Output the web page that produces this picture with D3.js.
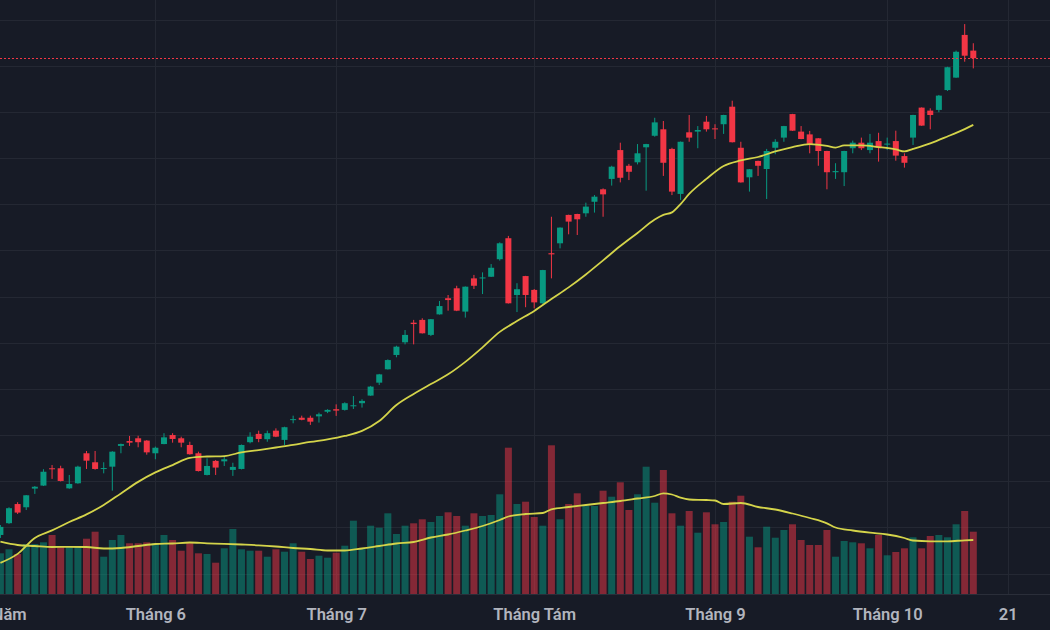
<!DOCTYPE html>
<html lang="vi">
<head>
<meta charset="UTF-8">
<title>Biểu đồ nến</title>
<script src="https://d3js.org/d3.v7.min.js"></script>
<style>
  html, body { margin: 0; padding: 0; background: #171b26; }
  svg { display: block; }
  .time-axis text { font-family: Roboto, "Noto Sans", sans-serif; font-size: 16.5px; font-weight: 600; fill: #b2b5be; }
</style>
</head>
<body>
<div id="chart"></div>
<script>
// giá mở / cao / thấp / đóng theo phiên
const opens  = [15.67,16.18,17.01,16.87,17.68,17.81,18.56,18.56,17.69,17.91,19.21,18.82,18.54,18.63,19.53,19.74,19.86,19.76,19.21,19.61,
                20.00,19.86,19.57,19.21,18.27,18.88,18.86,18.49,18.53,19.69,20.05,19.82,20.19,19.79,20.67,20.75,20.75,20.81,21.01,21.12,
                21.09,21.26,21.38,21.71,22.27,22.85,23.47,24.02,24.87,24.99,24.34,25.23,25.93,26.36,25.35,26.79,26.81,26.86,27.62,28.53,
                26.07,26.89,26.29,25.71,27.88,28.31,29.54,29.58,29.61,30.11,30.65,31.10,32.35,31.67,31.82,32.47,32.97,33.25,32.40,30.45,
                33.12,33.15,33.58,33.29,33.47,34.23,32.45,31.17,31.88,31.53,32.45,32.89,33.91,33.15,33.03,32.86,32.31,31.39,31.39,32.43,
                32.67,32.35,32.74,32.60,32.74,32.09,32.89,34.19,34.06,34.09,34.95,35.49,37.34,36.66];
const highs  = [16.10,16.87,17.09,17.40,17.79,18.52,18.70,18.67,18.27,18.67,19.31,19.31,18.82,19.30,19.63,19.96,19.97,19.78,19.50,20.08,
                20.08,19.93,19.71,19.28,18.99,18.92,19.09,18.80,19.59,20.12,20.19,20.19,20.29,20.36,20.84,20.84,20.84,20.97,21.12,21.33,
                21.42,21.69,21.55,22.13,22.65,23.28,23.87,24.55,24.99,25.06,25.03,25.81,26.07,26.47,26.44,26.94,27.05,27.41,28.35,28.63,
                26.58,26.90,26.33,27.16,29.46,29.00,29.55,29.59,30.07,30.40,30.69,31.67,32.67,31.75,32.61,32.62,33.75,33.61,32.45,32.72,
                33.87,33.39,33.83,33.47,33.88,34.49,32.71,31.53,31.89,32.40,32.82,33.40,33.92,33.39,33.18,32.87,32.32,31.78,32.32,32.76,
                32.89,33.05,33.10,32.89,33.19,32.21,33.88,34.20,34.16,34.74,35.96,36.66,37.81,36.98];
const lows   = [15.54,16.15,16.58,16.75,17.45,17.79,18.10,17.99,17.67,17.89,18.53,18.50,18.34,17.59,19.21,19.53,19.47,19.15,18.95,19.60,
                19.67,19.47,19.15,18.42,18.25,18.27,18.66,18.23,18.51,19.64,19.69,19.71,19.91,19.57,20.51,20.64,20.44,20.54,20.95,20.83,
                21.06,21.13,21.19,21.70,22.17,22.84,23.37,23.93,23.93,24.40,24.29,25.22,25.39,25.37,25.09,26.33,26.11,26.85,27.56,25.70,
                25.33,25.54,25.49,25.69,26.79,28.09,28.70,28.67,29.46,29.64,29.46,30.81,30.95,31.05,31.73,30.59,32.93,31.23,30.40,30.19,
                32.71,32.43,33.15,32.83,33.05,32.68,30.94,30.55,31.23,30.23,32.17,32.71,33.18,32.82,32.21,31.67,30.65,31.10,30.79,32.21,
                32.35,32.21,31.85,32.35,31.89,31.59,32.57,33.40,33.25,33.99,34.91,35.48,36.18,35.89];
const closes = [16.02,16.83,16.64,17.39,17.76,18.41,18.52,18.01,17.88,18.63,18.89,18.53,18.57,19.28,19.61,19.67,19.69,19.25,19.45,19.90,
                19.83,19.67,19.17,18.44,18.66,18.59,18.95,18.62,19.57,19.93,19.83,20.08,19.93,20.34,20.69,20.66,20.58,20.90,21.09,21.06,
                21.38,21.29,21.48,22.10,22.63,23.25,23.83,24.34,24.81,24.41,25.02,25.59,25.85,25.39,26.43,26.47,26.83,27.25,28.31,25.71,
                26.32,26.07,25.75,27.15,27.83,28.99,29.25,29.35,29.90,30.33,30.43,31.63,31.15,31.41,32.21,32.61,33.55,31.80,30.55,32.71,
                32.89,33.22,33.25,33.25,33.87,32.69,30.95,31.52,31.67,32.31,32.71,33.39,33.19,32.83,32.60,32.31,31.39,31.44,32.31,32.67,
                32.43,32.67,32.45,32.63,32.11,31.80,33.87,33.41,33.87,34.71,35.94,36.61,36.44,36.33];

// khối lượng (triệu cp)
const volumes = [4.07,4.47,4.00,5.00,5.00,5.17,5.90,4.73,4.73,4.73,5.53,6.23,3.73,5.40,5.90,5.07,5.07,5.17,5.07,5.90,
                 5.40,4.33,5.13,4.07,4.00,3.13,4.57,6.50,4.47,4.33,4.33,3.73,4.47,4.23,5.07,4.23,3.50,3.83,3.63,4.13,
                 4.83,7.33,4.57,6.83,6.63,8.07,6.00,6.83,7.07,7.47,7.20,7.80,8.17,7.80,6.83,8.07,7.80,7.90,9.97,14.63,
                 9.00,9.23,7.70,6.83,14.87,7.47,9.00,10.07,8.80,8.80,10.33,9.73,11.17,8.40,9.97,12.73,9.13,12.40,8.07,6.83,
                 8.30,6.13,8.17,6.97,7.20,9.23,9.83,5.73,4.67,6.73,5.63,6.40,6.97,5.40,4.90,4.90,6.40,3.73,5.30,5.17,
                 5.07,4.57,5.90,3.87,4.20,4.57,5.67,4.57,5.80,5.90,5.67,6.97,8.30,6.23];

// đường MA của giá: [phiên, giá]
const priceMA = [[0,14.46],[2,14.85],[4,15.54],[6,15.87],[8,16.23],[10,16.56],[12,16.97],[14,17.47],[16,17.97],[18,18.38],
                 [20,18.70],[22,19.01],[24,19.07],[26,19.09],[28,19.25],[30,19.35],[32,19.46],[34,19.57],[36,19.70],[38,19.81],
                 [40,19.96],[42,20.18],[44,20.61],[46,21.30],[48,21.78],[50,22.21],[52,22.63],[54,23.17],[56,23.80],[58,24.47],
                 [60,24.94],[62,25.38],[64,25.90],[66,26.40],[68,26.96],[70,27.57],[72,28.19],[74,28.76],[76,29.34],[77,29.54],
                 [78,29.65],[79,30.01],[80,30.45],[82,31.10],[84,31.66],[86,31.90],[88,32.05],[90,32.29],[92,32.48],[94,32.61],
                 [96,32.53],[97,32.46],[98,32.55],[100,32.55],[102,32.48],[104,32.38],[105,32.29],[106,32.40],[108,32.64],[110,32.94],
                 [112,33.26],[113,33.44]];

// đường MA của khối lượng: [phiên, khối lượng]
const volumeMA = [[0,5.23],[2,4.90],[4,4.80],[6,4.70],[8,4.72],[10,4.70],[12,4.55],[14,4.60],[16,4.80],[18,5.00],
                  [20,5.05],[22,5.15],[24,5.07],[26,5.02],[28,4.95],[30,4.87],[32,4.75],[34,4.60],[36,4.50],[38,4.35],
                  [40,4.35],[42,4.55],[44,4.80],[46,5.05],[48,5.20],[50,5.65],[52,5.95],[54,6.35],[56,6.80],[58,7.40],
                  [59,7.75],[61,8.00],[63,8.10],[64,8.47],[66,8.70],[68,8.90],[70,9.10],[72,9.30],[74,9.55],[76,9.80],
                  [77,10.07],[78,9.95],[79,9.63],[80,9.45],[82,9.40],[83,9.35],[84,9.00],[86,9.10],[88,8.70],[90,8.45],
                  [92,8.05],[94,7.60],[96,7.07],[97,6.65],[99,6.35],[101,6.13],[103,5.95],[105,5.60],[106,5.35],[108,5.27],
                  [110,5.27],[112,5.37],[113,5.40]];

// nhãn trục thời gian (vị trí theo phiên)
const tickIdx  = [-2, 18, 39, 62, 83, 103, 117];
const tickText = ["Tháng Năm", "Tháng 6", "Tháng 7", "Tháng Tám", "Tháng 9", "Tháng 10", "21"];

const W = 1050, H = 630;
const paneBottom = 594;
const upColor = "#089981", downColor = "#f23645";

const svg = d3.select("#chart").append("svg")
  .attr("width", W).attr("height", H);

svg.append("rect").attr("width", W).attr("height", H).attr("fill", "#171b26");

const x = d3.scaleLinear().domain([0, opens.length - 1]).range([0.4, 973.3]);
const y = d3.scaleLinear().domain([14, 38]).range([573.5, 19.7]);
const yVol = d3.scaleLinear().domain([0, 15]).range([paneBottom, 444]);

// lưới
svg.append("g").selectAll("line").data(y.ticks(12)).join("line")
  .attr("x1", 0).attr("x2", W)
  .attr("y1", d => Math.round(y(d)) + 0.5).attr("y2", d => Math.round(y(d)) + 0.5)
  .attr("stroke", "#242833");
svg.append("g").selectAll("line").data(tickIdx).join("line")
  .attr("x1", d => Math.round(x(d)) + 0.5).attr("x2", d => Math.round(x(d)) + 0.5)
  .attr("y1", 0).attr("y2", paneBottom)
  .attr("stroke", "#242833");

const data = opens.map((o, i) => ({ i, o, h: highs[i], l: lows[i], c: closes[i], v: volumes[i] }));

// khối lượng
svg.append("g").selectAll("rect").data(data).join("rect")
  .attr("x", d => x(d.i) - 3.5)
  .attr("width", 7)
  .attr("y", d => yVol(d.v))
  .attr("height", d => yVol(0) - yVol(d.v))
  .attr("fill", d => d.c >= d.o ? upColor : downColor)
  .attr("fill-opacity", 0.5);

const line = d3.line().x(d => x(d[0])).curve(d3.curveMonotoneX);

svg.append("path")
  .attr("d", line.y(d => yVol(d[1]))(volumeMA))
  .attr("fill", "none").attr("stroke", "#d4d44a").attr("stroke-width", 1.8);

// nến
const candles = svg.append("g").selectAll("g").data(data).join("g");
candles.append("line")
  .attr("x1", d => x(d.i)).attr("x2", d => x(d.i))
  .attr("y1", d => y(d.h)).attr("y2", d => y(d.l))
  .attr("stroke", d => d.c >= d.o ? upColor : downColor)
  .attr("stroke-width", 1);
candles.append("rect")
  .attr("x", d => x(d.i) - 3)
  .attr("width", 6)
  .attr("y", d => y(Math.max(d.o, d.c)))
  .attr("height", d => Math.max(1, Math.abs(y(d.o) - y(d.c))))
  .attr("fill", d => d.c >= d.o ? upColor : downColor);

// MA giá
svg.append("path")
  .attr("d", line.y(d => y(d[1]))(priceMA))
  .attr("fill", "none").attr("stroke", "#d4d44a").attr("stroke-width", 1.8);

// đường giá cuối
const last = closes[closes.length - 1];
svg.append("line")
  .attr("x1", 0).attr("x2", W)
  .attr("y1", Math.round(y(last)) + 0.5).attr("y2", Math.round(y(last)) + 0.5)
  .attr("stroke", downColor).attr("stroke-width", 1).attr("stroke-dasharray", "2,2");

// trục thời gian
svg.append("line")
  .attr("x1", 0).attr("x2", W).attr("y1", paneBottom + 0.5).attr("y2", paneBottom + 0.5)
  .attr("stroke", "#2a2e39");

const axis = d3.axisBottom(x)
  .tickValues(tickIdx)
  .tickFormat((d, i) => tickText[i])
  .tickSize(0)
  .tickPadding(14);

svg.append("g")
  .attr("class", "time-axis")
  .attr("transform", `translate(0,${paneBottom})`)
  .call(axis)
  .call(g => g.select(".domain").remove());
</script>
</body>
</html>
